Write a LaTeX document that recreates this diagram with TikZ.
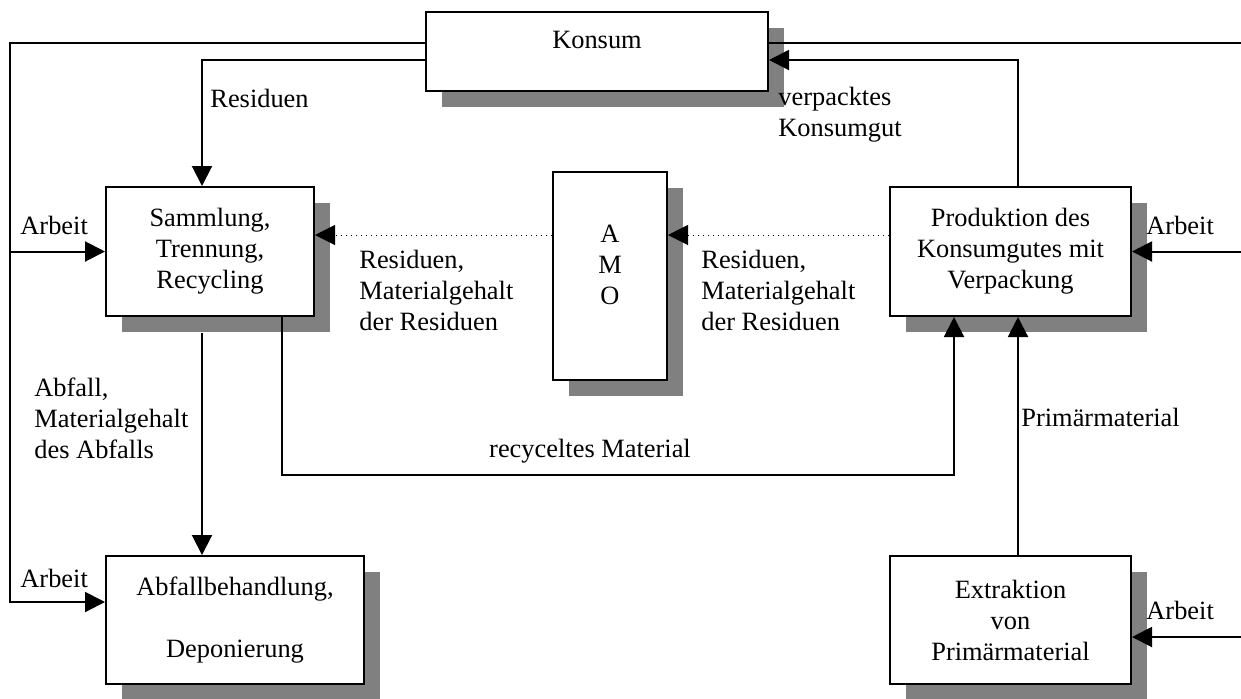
\documentclass[tikz,border=0pt]{standalone}
\usepackage{fontspec}
\setmainfont{Liberation Serif}
\usetikzlibrary{arrows.meta,shadows}

\begin{document}
\begin{tikzpicture}[x=0.5pt,y=-0.5pt,
  font=\fontsize{13.2}{15.5}\selectfont,
  box/.style={draw,line width=1pt,fill=white,align=center,inner sep=0pt,
    drop shadow={shadow xshift=8pt,shadow yshift=-8pt,fill=gray,opacity=1}},
  flow/.style={draw,line width=1pt,-{Triangle[length=10pt,width=10pt]}},
  info/.style={draw,line width=0.5pt,dotted,-{Triangle[length=10pt,width=10pt]}},
  txt/.style={align=left,anchor=west,inner sep=0pt}]
\useasboundingbox (0,0) rectangle (1241,698);
% Prozesse
\node[box,minimum width=171pt,minimum height=39.5pt,text height=9pt,text depth=12.5pt] (konsum) at (597,51.5) {Konsum};
\node[box,minimum width=104pt,minimum height=64.5pt] (sammlung) at (210,251.5) {Sammlung,\\Trennung,\\Recycling};
\node[box,minimum width=120.5pt,minimum height=64.5pt] (produktion) at (1010.5,251.5) {Produktion des\\Konsumgutes mit\\Verpackung};
\node[box,minimum width=57pt,minimum height=104pt,label={[align=center,yshift=5.5pt]center:A\\M\\O}] (amo) at (610,276) {};
\node[box,minimum width=129pt,minimum height=64pt] (abfall) at (235,620) {Abfallbehandlung,\\[15.5pt]Deponierung};
\node[box,minimum width=120.5pt,minimum height=64pt] (extraktion) at (1010.5,620) {Extraktion\\von\\Primärmaterial};
% Hilfspunkte
\coordinate (ecke) at (10,602);
\coordinate (arbeitL) at (10,251.5);
\coordinate (randO) at (1241,43);
\coordinate (randP) at (1241,251.5);
\coordinate (randE) at (1241,637);
\coordinate (recyc) at (954,475);
\coordinate (resR) at ([yshift=8.25pt]produktion.west);
\coordinate (resL) at ([yshift=8.25pt]sammlung.east);
% Stoffstroeme
\path[flow] ([yshift=4.25pt]konsum.west) -| (ecke) -- ([yshift=9pt]abfall.west);
\path[flow] (arbeitL) -- (sammlung.west);
\path[draw,line width=1pt] ([yshift=4.25pt]konsum.east) -- (randO);
\path[flow] ([yshift=-4.25pt]konsum.west) -| ([xshift=-4pt]sammlung.north);
\path[flow] ([xshift=3.75pt]produktion.north) |- ([yshift=-4.25pt]konsum.east);
\path[flow] (randP) -- (produktion.east);
\path[flow] (randE) -- ([yshift=-8.5pt]extraktion.east);
\path[info] (resR) -- (resR -| amo.east);
\path[info] (resL -| amo.west) -- (resL);
\path[flow] ([xshift=-4pt,yshift=-8pt]sammlung.south) -- ([xshift=-4pt]sammlung.south |- abfall.north);
\path[flow] ([xshift=36pt]sammlung.south) |- (recyc) -- (recyc |- produktion.south);
\path[flow] ([xshift=3.75pt]extraktion.north) -- ([xshift=3.75pt]produktion.south);
% Beschriftungen
\node[txt] (tResiduen) at (210,98) {Residuen};
\node[txt] (tKonsumgut) at (778,115) {verpacktes\\Konsumgut};
\node[txt] (tArbeitS) at (20,225) {Arbeit};
\node[txt] (tArbeitA) at (20,578) {Arbeit};
\node[txt] (tArbeitP) at (1146,225) {Arbeit};
\node[txt] (tArbeitE) at (1146,610) {Arbeit};
\node[txt] (tResL) at (359,290) {Residuen,\\Materialgehalt\\der Residuen};
\node[txt] (tResR) at (701,290) {Residuen,\\Materialgehalt\\der Residuen};
\node[txt] (tAbfall) at (34,418) {Abfall,\\Materialgehalt\\des Abfalls};
\node[inner sep=0pt] (tRecyc) at (590,451) {recyceltes Material};
\node[txt] (tPrimaer) at (1021,417) {Primärmaterial};
\end{tikzpicture}
\end{document}
